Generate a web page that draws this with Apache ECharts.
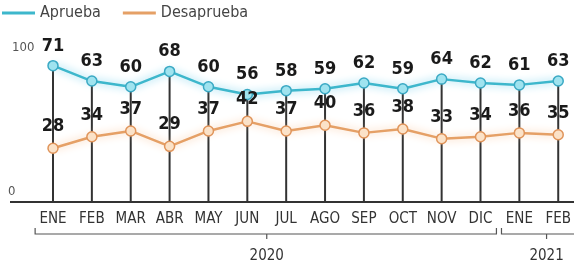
<!DOCTYPE html>
<html lang="es">
<head>
	<meta charset="UTF-8">
	<title>Aprueba / Desaprueba</title>
	<script src="https://cdn.jsdelivr.net/npm/echarts@6/dist/echarts.min.js"></script>
	<style>
		html, body { margin: 0; padding: 0; background: #fff; }
		#chart { width: 574px; height: 264px; }
	</style>
</head>
<body>
<div id="chart"></div>
<script>
    // datos
    var months = ['ENE', 'FEB', 'MAR', 'ABR', 'MAY', 'JUN', 'JUL', 'AGO', 'SEP', 'OCT', 'NOV', 'DIC', 'ENE', 'FEB'];
    var aprueba = [71, 63, 60, 68, 60, 56, 58, 59, 62, 59, 64, 62, 61, 63];
    var desaprueba = [28, 34, 37, 29, 37, 42, 37, 40, 36, 38, 33, 34, 36, 35];
    var years = ['2020', '2021'];
    var yLabels = ['100', '0'];

    var narrow = "'Liberation Sans Narrow', 'DejaVu Sans Condensed', sans-serif";
    var azul = '#3db7cc', naranja = '#e5a066';
    var chart = echarts.init(document.getElementById('chart'));

    var option = {
        animation: false,
        legend: {
            left: 2,
            top: 5,
            padding: 0,
            itemWidth: 33,
            itemHeight: 3,
            itemGap: 22,
            icon: 'rect',
            textStyle: { fontFamily: narrow, fontSize: 16, color: '#444' },
            data: [
                { name: 'Aprueba', itemStyle: { color: azul, borderWidth: 0 } },
                { name: 'Desaprueba', itemStyle: { color: naranja, borderWidth: 0 } }
            ]
        },
        grid: { left: 53, right: 15, top: 10, bottom: 62 },
        xAxis: {
            type: 'category',
            boundaryGap: false,
            data: months,
            axisLine: { show: false },
            axisTick: { show: false },
            axisLabel: { interval: 0, margin: 10, fontFamily: narrow, fontSize: 15, color: '#333' }
        },
        yAxis: {
            type: 'value',
            min: 0,
            max: 100,
            axisLabel: { show: false },
            axisLine: { show: false },
            axisTick: { show: false },
            splitLine: { show: false }
        },
        series: [{
            name: 'drop',
            type: 'bar',
            data: aprueba,
            barWidth: 2,
            itemStyle: { color: '#333' },
            z: 1,
            silent: true
        }, {
            name: 'Aprueba',
            type: 'line',
            data: aprueba,
            color: azul,
            symbol: 'circle',
            symbolSize: 10,
            lineStyle: { width: 2.5, color: azul, shadowColor: 'rgba(110,205,235,1)', shadowBlur: 8 },
            itemStyle: { color: '#9fe3ef', borderColor: '#3aa9c4', borderWidth: 1.5 },
            label: {
                show: true, position: 'top', distance: 5,
                fontFamily: narrow, fontWeight: 'bold', fontSize: 18, color: '#1a1a1a'
            },
            z: 3
        }, {
            name: 'Desaprueba',
            type: 'line',
            data: desaprueba,
            color: naranja,
            symbol: 'circle',
            symbolSize: 10,
            lineStyle: { width: 2.5, color: naranja, shadowColor: 'rgba(248,200,160,1)', shadowBlur: 8 },
            itemStyle: { color: '#fbe2c8', borderColor: '#e0945a', borderWidth: 1.5 },
            label: {
                show: true, position: 'top', distance: 7,
                fontFamily: narrow, fontWeight: 'bold', fontSize: 18, color: '#1a1a1a'
            },
            z: 3
        }]
    };
    chart.setOption(option);

    // eje, llaves de años y etiquetas de y
    var y0 = chart.convertToPixel({ yAxisIndex: 0 }, 0);
    var x0 = chart.convertToPixel({ xAxisIndex: 0 }, 0);
    var x1 = chart.convertToPixel({ xAxisIndex: 0 }, 1);
    var step = x1 - x0;
    var px = function (i) { return x0 + i * step; };
    var by = y0 + 32;

    function bracket(a, b, c) {
        return {
            type: 'polyline',
            shape: { points: [[px(a), by - 6], [px(a), by], [px(c), by], [px(c), by + 5], [px(c), by], [px(b), by], [px(b), by - 6]] },
            style: { stroke: '#555', lineWidth: 1.2, fill: null }
        };
    }

    chart.setOption({
        graphic: [
            { type: 'line', shape: { x1: 10, y1: y0, x2: 574, y2: y0 }, style: { stroke: '#333', lineWidth: 2 }, z: 5 },
            bracket(-0.46, 11.41, 5.5),
            bracket(11.54, 13.9, 12.7),
            { type: 'text', x: px(5.5), y: by + 22, style: { text: years[0], font: '15px ' + narrow, fill: '#333', align: 'center', verticalAlign: 'middle' } },
            { type: 'text', x: px(12.7), y: by + 22, style: { text: years[1], font: '15px ' + narrow, fill: '#333', align: 'center', verticalAlign: 'middle' } },
            { type: 'text', x: 12, y: 48, style: { text: yLabels[0], font: '13px ' + narrow, fill: '#555', verticalAlign: 'middle' } },
            { type: 'text', x: 8, y: y0 - 10, style: { text: yLabels[1], font: '13px ' + narrow, fill: '#555', verticalAlign: 'middle' } }
        ]
    });
</script>
</body>
</html>
